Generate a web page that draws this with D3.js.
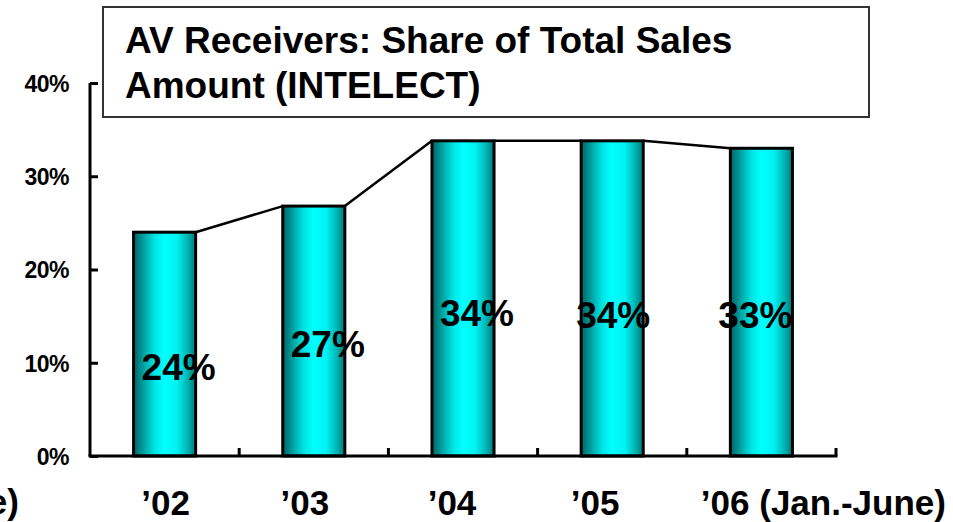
<!DOCTYPE html>
<html>
<head>
<meta charset="utf-8">
<script src="https://cdn.jsdelivr.net/npm/d3@7"></script>
<style>
  body { margin: 0; background: #fff; }
  svg { display: block; font-family: "Liberation Sans", Arial, sans-serif; font-weight: bold; }
</style>
</head>
<body>
<div id="Graph"></div>
<script>
// chart data
const years = ["’02", "’03", "’04", "’05", "’06 (Jan.-June)"];
const shares = [24.0, 26.8, 33.8, 33.8, 33.0];
const shareLabels = ["24%", "27%", "34%", "34%", "33%"];
const yTicks = [0, 10, 20, 30, 40];
const titleLines = ["AV Receivers: Share of Total Sales", "Amount (INTELECT)"];

const width = 953, height = 522;

const svg = d3.select("#Graph").append("svg")
  .attr("width", width)
  .attr("height", height);

const x = d3.scaleBand()
  .domain(years)
  .range([90, 836])
  .paddingInner(0.584)
  .paddingOuter(0.292);

const y = d3.scaleLinear()
  .domain([0, 40])
  .range([456, 83]);

// bar gradient, dark edges to cyan
const grad = svg.append("defs").append("linearGradient")
  .attr("id", "barGrad")
  .attr("x1", "0%").attr("x2", "100%").attr("y1", "0%").attr("y2", "0%");
[[0, "#006464"], [0.1, "#008888"], [0.2, "#00b0b0"], [0.35, "#00e6e6"],
 [0.5, "#00ffff"], [0.7, "#00f2f2"], [0.87, "#00b4b4"], [1, "#007a7a"]]
  .forEach(s => grad.append("stop").attr("offset", s[0]).attr("stop-color", s[1]));

// title box
svg.append("rect")
  .attr("x", 103).attr("y", 7)
  .attr("width", 766).attr("height", 110)
  .attr("fill", "#fff")
  .attr("stroke", "#333")
  .attr("stroke-width", 2);

svg.append("g").selectAll("text")
  .data(titleLines)
  .enter().append("text")
  .attr("x", 125)
  .attr("y", (d, i) => 53 + i * 45)
  .attr("font-size", 37)
  .attr("fill", "#000")
  .text(d => d);

// bars
svg.append("g").selectAll("rect")
  .data(shares)
  .enter().append("rect")
  .attr("x", (d, i) => x(years[i]))
  .attr("y", d => y(d))
  .attr("width", x.bandwidth())
  .attr("height", d => y(0) - y(d))
  .attr("fill", "url(#barGrad)")
  .attr("stroke", "#000")
  .attr("stroke-width", 3);

// series lines between bar tops
const links = d3.pairs(shares.map((d, i) => ({ v: d, k: years[i] })));
svg.append("g").selectAll("line")
  .data(links)
  .enter().append("line")
  .attr("x1", d => x(d[0].k) + x.bandwidth())
  .attr("y1", d => y(d[0].v))
  .attr("x2", d => x(d[1].k))
  .attr("y2", d => y(d[1].v))
  .attr("stroke", "#000")
  .attr("stroke-width", 2.5);

// y axis
const yAxis = svg.append("g")
  .attr("transform", "translate(90,0)")
  .call(d3.axisLeft(y).tickValues(yTicks).tickSize(-8).tickPadding(21)
    .tickFormat(d => d + "%"));
yAxis.select(".domain").attr("stroke-width", 3).attr("d", "M0,83V456");
yAxis.selectAll(".tick line").attr("stroke-width", 3);
yAxis.selectAll(".tick text")
  .attr("font-size", 23)
  .attr("letter-spacing", -0.5)
  .attr("dy", "0.36em")
  .attr("font-family", "Liberation Sans, Arial, sans-serif")
  .attr("font-weight", "bold");

// x axis with ticks at category boundaries
const bounds = years.map((d, i) => 90 + i * x.step()).slice(1).concat([836]);
svg.append("line")
  .attr("x1", 88.5).attr("x2", 837.5)
  .attr("y1", y(0)).attr("y2", y(0))
  .attr("stroke", "#000").attr("stroke-width", 3);
svg.append("g").selectAll("line")
  .data(bounds)
  .enter().append("line")
  .attr("x1", d => d).attr("x2", d => d)
  .attr("y1", y(0)).attr("y2", y(0) - 8)
  .attr("stroke", "#000").attr("stroke-width", 3);

// category labels (placed by hand in the original slide)
const xLabelShift = [1, -9, -11, -17, 62];
svg.append("g").selectAll("text")
  .data(years)
  .enter().append("text")
  .attr("x", (d, i) => x(d) + x.bandwidth() / 2 + xLabelShift[i])
  .attr("y", 515)
  .attr("text-anchor", "middle")
  .attr("font-size", 35)
  .text(d => d);

// clipped leftover of a label at the left edge
svg.append("text")
  .attr("x", 19).attr("y", 514)
  .attr("text-anchor", "end")
  .attr("font-size", 35)
  .text("(Jan.-June)");

// value labels inside bars
const labelShiftX = [14, 14, 14, 1, -6];
const labelY = [380, 357, 326, 328, 328];
svg.append("g").selectAll("text")
  .data(shareLabels)
  .enter().append("text")
  .attr("x", (d, i) => x(years[i]) + x.bandwidth() / 2 + labelShiftX[i])
  .attr("y", (d, i) => labelY[i])
  .attr("text-anchor", "middle")
  .attr("font-size", 37)
  .attr("fill", "#000")
  .text(d => d);
</script>
</body>
</html>
